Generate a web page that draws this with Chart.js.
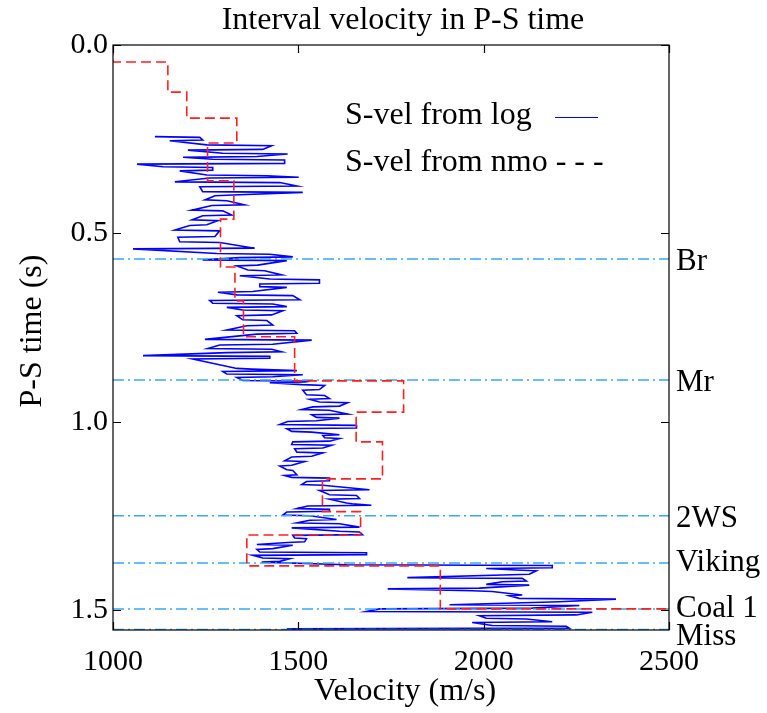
<!DOCTYPE html>
<html>
<head>
<meta charset="utf-8">
<script src="https://cdn.jsdelivr.net/npm/chart.js@4.4.1/dist/chart.umd.min.js"></script>
<style>
  body { margin: 0; background: #fff; }
  #wrap { width: 767px; height: 713px; position: relative; }
</style>
</head>
<body>
<div id="wrap"><canvas id="mycanvas"></canvas></div>
<script>
// S-vel from log: each row is one time sample with its left/right swing (m/s)
var logT = [0.243,0.252,0.265,0.277,0.287,0.296,0.303,0.314,0.323,0.332,
            0.345,0.351,0.363,0.374,0.389,0.398,0.411,0.424,0.438,0.451,
            0.464,0.477,0.491,0.508,0.522,0.539,0.553,
            0.562,0.570,0.584,0.597,0.610,0.621,0.632,0.641,0.654,0.663,
            0.676,0.685,0.694,0.703,0.716,0.729,0.743,0.756,0.765,0.781,
            0.794,0.805,0.814,0.824,0.831,0.858,0.864,0.873,0.880,0.890,
            0.894,0.901,0.914,0.928,0.938,0.947,0.958,0.967,0.979,0.988,
            0.997,1.007,1.016,1.025,1.034,1.042,1.051,1.060,1.069,1.080,
            1.091,1.103,1.115,1.127,1.140,1.147,1.156,1.166,1.180,1.193,
            1.203,1.215,1.221,1.230,1.237,1.247,1.259,1.268,1.279,1.290,
            1.299,1.308,1.318,1.325,1.336,1.345,1.352,1.361,1.370,1.379,
            1.387,1.393,1.404,1.413,1.422,1.431,1.441,1.448,1.459,1.468,
            1.477,1.485,1.494,1.503,1.512,1.521,1.530,1.540,1.547];
var logLo = [1113,1153,1253,1202,1296,1189,1269,1065,1135,1180,
             1253,1261,1167,1234,1242,1275,1248,1267,1213,1242,
             1213,1207,1167,1175,1180,1054,1280,
             1342,1242,1334,1364,1342,1423,1396,1396,1283,1334,
             1261,1269,1307,1350,1334,1350,1361,1307,1388,1248,
             1288,1256,1307,1081,1215,1334,1296,1307,1334,1350,
             1423,1509,1512,1522,1531,1557,1539,1509,1536,1549,
             1471,1450,1469,1482,1566,1571,1485,1482,1490,1496,
             1482,1463,1450,1469,1463,1482,1522,1509,1557,1584,
             1584,1630,1525,1496,1469,1458,1531,1496,1482,1611,
             1485,1490,1471,1388,1388,1396,1377,1404,1401,1630,
             2007,2088,2050,1794,2050,2007,1741,1969,2069,2096,
             2131,1908,1719,1684,1988,2007,1969,2023,1469];
var logHi = [1234,1242,1428,1404,1471,1388,1463,1463,1269,1269,
             1415,1501,1450,1496,1512,1323,1307,1355,1296,1320,
             1283,1253,1288,1275,1288,1382,1423,
             1485,1469,1390,1409,1455,1557,1557,1469,1377,1485,
             1504,1431,1469,1458,1428,1415,1431,1490,1496,1536,
             1431,1428,1455,1423,1423,1374,1496,1512,1431,1531,
             1517,1571,1557,1571,1584,1633,1611,1584,1633,1611,
             1549,1657,1657,1536,1611,1611,1584,1590,1566,1566,
             1536,1517,1482,1485,1496,1584,1584,1566,1692,1657,
             1665,1646,1697,1584,1584,1531,1603,1611,1665,1665,
             1673,1522,1517,1485,1431,1684,1684,1477,1450,2185,
             2185,2142,2123,2104,2115,2123,1988,2023,2104,2357,
             2204,2258,2131,2293,2250,2115,2185,2223,2231];

// S-vel from nmo: interval tops (s) and interval velocities (m/s)
var nmoTop = [0, 0.045, 0.125, 0.194, 0.260, 0.360, 0.462, 0.589, 0.679, 0.774,
              0.891, 0.974, 1.053, 1.151, 1.238, 1.300, 1.382, 1.496];
var nmoVel = [1000, 1148, 1199, 1334, 1255, 1326, 1290, 1329, 1352, 1490,
              1784, 1656, 1727, 1565, 1668, 1361, 1883, 2700];
var nmoEnd = 1.56;

// horizons
var horizonNames = ['Br', 'Mr', '2WS', 'Viking', 'Coal 1', 'Miss'];
var horizonTimes = [0.568, 0.889, 1.249, 1.374, 1.496, 1.551];

var xTicks = [1000, 1500, 2000, 2500];
var yTicks = [0.0, 0.5, 1.0, 1.5];

var FONT = "'Liberation Serif', 'DejaVu Serif', serif";

// zig-zag trace for the log: left->right on one sample, right->left on the next
var logPts = [];
for (var i = 0; i < logT.length; i++) {
  if (i % 2 == 0) {
    logPts.push({x: logLo[i], y: logT[i]});
    logPts.push({x: logHi[i], y: logT[i] + 0.002});
  } else {
    logPts.push({x: logHi[i], y: logT[i]});
    logPts.push({x: logLo[i], y: logT[i] + 0.002});
  }
}

// step line for nmo
var nmoPts = [];
for (var j = 0; j < nmoVel.length; j++) {
  var bot = j + 1 < nmoTop.length ? nmoTop[j + 1] : nmoEnd;
  nmoPts.push({x: nmoVel[j], y: nmoTop[j]});
  nmoPts.push({x: nmoVel[j], y: bot});
}

var datasets = [
  {
    label: 'S-vel from log', data: logPts, showLine: true, pointRadius: 0,
    borderColor: '#0000ff', borderWidth: 1.6, order: 3
  },
  {
    label: 'S-vel from nmo', data: nmoPts, showLine: true, pointRadius: 0,
    borderColor: '#ff2020', borderWidth: 1.6, borderDash: [10, 5], order: 1
  }
];
for (var h = 0; h < horizonTimes.length; h++) {
  datasets.push({
    label: horizonNames[h],
    data: [{x: 1000, y: horizonTimes[h]}, {x: 2500, y: horizonTimes[h]}],
    showLine: true, pointRadius: 0,
    borderColor: '#3aa8f0', borderWidth: 1.5, borderDash: [11, 4, 2, 4], order: 2
  });
}

var decor = {
  id: 'decor',
  afterDraw: function(chart) {
    var c = chart.ctx, a = chart.chartArea;
    var xs = chart.scales.x, ys = chart.scales.y;
    c.save();
    // frame
    c.strokeStyle = '#000';
    c.lineWidth = 1.2;
    c.strokeRect(a.left, a.top, a.right - a.left, a.bottom - a.top);
    // inward ticks
    c.beginPath();
    xTicks.forEach(function(v) {
      var px = Math.round(xs.getPixelForValue(v)) + 0.5;
      c.moveTo(px, a.top); c.lineTo(px, a.top + 8);
      c.moveTo(px, a.bottom); c.lineTo(px, a.bottom - 8);
    });
    yTicks.forEach(function(v) {
      var py = Math.round(ys.getPixelForValue(v)) + 0.5;
      c.moveTo(a.left, py); c.lineTo(a.left + 8, py);
      c.moveTo(a.right, py); c.lineTo(a.right - 8, py);
    });
    c.stroke();

    c.fillStyle = '#000';
    c.font = '32px ' + FONT;
    // title
    c.textAlign = 'center';
    c.textBaseline = 'middle';
    c.fillText('Interval velocity in P-S time', 403, 21);
    // x title
    c.fillText('Velocity (m/s)', 405, 692);
    // y title
    c.save();
    c.translate(33, 331);
    c.rotate(-Math.PI / 2);
    c.fillText('P-S time (s)', 0, 0);
    c.restore();

    // legend
    c.textAlign = 'left';
    c.fillText('S-vel from log', 345, 116);
    c.fillText('S-vel from nmo - - -', 345, 163);

    // horizon names
    c.font = '31px ' + FONT;
    horizonNames.forEach(function(n, k) {
      var py = ys.getPixelForValue(horizonTimes[k]);
      if (n == 'Miss') py = a.bottom + 7;
      else if (n == 'Br' || n == 'Mr' || n == '2WS') py += 3;
      c.fillText(n, a.right + 7, py);
    });

    c.strokeStyle = '#0000ff';
    c.lineWidth = 1;
    c.beginPath();
    c.moveTo(555, 117.5); c.lineTo(598, 117.5);
    c.stroke();
    c.restore();
  }
};

var ctx = document.getElementById('mycanvas');
var chart = new Chart(ctx, {
  type: 'scatter',
  data: { datasets: datasets },
  options: {
    responsive: true,
    maintainAspectRatio: false,
    animation: false,
    layout: { padding: { left: 0, top: 45, right: 98, bottom: 0 } },
    plugins: { legend: { display: false }, title: { display: false }, tooltip: { enabled: false } },
    elements: { line: { tension: 0 } },
    scales: {
      x: {
        type: 'linear', min: 1000, max: 2500,
        afterBuildTicks: function(s) { s.ticks = xTicks.map(function(v) { return {value: v}; }); },
        afterFit: function(s) { s.height = 83; },
        grid: { display: false, drawTicks: false }, border: { display: false },
        ticks: { color: '#000', font: { family: FONT, size: 30 }, padding: 14, maxRotation: 0,
                 callback: function(v) { return String(v); } }
      },
      y: {
        type: 'linear', min: 0, max: 1.552, reverse: true,
        afterBuildTicks: function(s) { s.ticks = yTicks.map(function(v) { return {value: v}; }); },
        afterFit: function(s) { s.width = 113; },
        grid: { display: false, drawTicks: false }, border: { display: false },
        ticks: { color: '#000', font: { family: FONT, size: 30 }, padding: 5,
                 callback: function(v) { return Number(v).toFixed(1); } }
      }
    }
  },
  plugins: [decor]
});
</script>
</body>
</html>
